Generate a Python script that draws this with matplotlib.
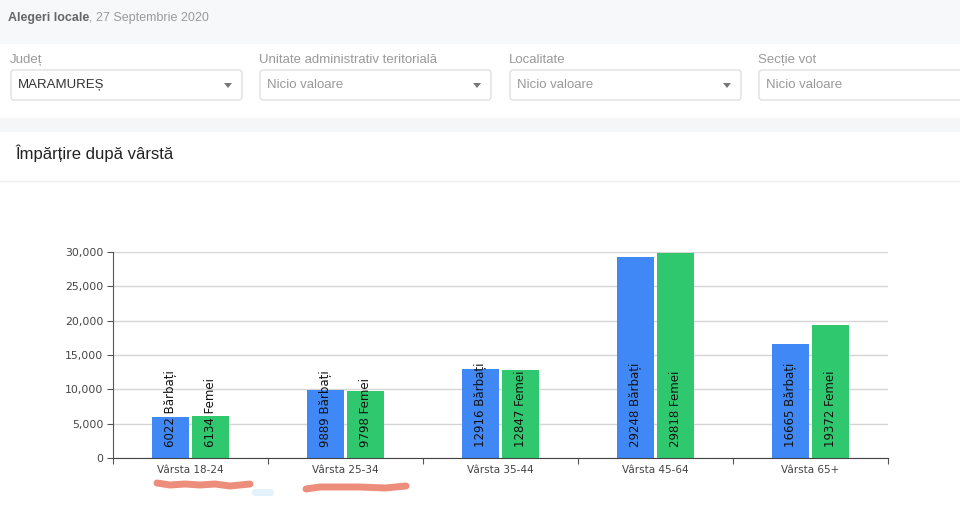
import matplotlib.pyplot as plt
from matplotlib.patches import FancyBboxPatch, Rectangle, Polygon

# %%
categories = ["Vârsta 18-24", "Vârsta 25-34", "Vârsta 35-44", "Vârsta 45-64", "Vârsta 65+"]
barbati = [6022, 9889, 12916, 29248, 16665]
femei = [6134, 9798, 12847, 29818, 19372]
y_ticks = [0, 5000, 10000, 15000, 20000, 25000, 30000]

filter_labels = ["Județ", "Unitate administrativ teritorială", "Localitate", "Secție vot"]
filter_values = ["MARAMUREȘ", "Nicio valoare", "Nicio valoare", "Nicio valoare"]

BLUE = "#4088f5"
GREEN = "#30c86e"

# %%
W, H = 960, 508
fig = plt.figure(figsize=(W / 100, H / 100), dpi=100)
fig.patch.set_facecolor("white")

# page background, drawn in pixel coordinates
bg = fig.add_axes([0, 0, 1, 1])
bg.set_xlim(0, W)
bg.set_ylim(H, 0)
bg.axis("off")

bg.add_patch(Rectangle((0, 0), W, 44, color="#f7f8fa", lw=0))
bg.add_patch(Rectangle((0, 118), W, 14, color="#f5f6f8", lw=0))
bg.plot([0, W], [180.5, 180.5], color="#eeeeee", lw=1)

t_bold = bg.text(8, 18, "Alegeri locale", fontsize=9, fontweight="bold", color="#666666",
                 va="center", family="Liberation Sans")
bg.annotate(", 27 Septembrie 2020", xy=(1, 0.5), xycoords=t_bold, fontsize=9, color="#999999",
            va="center", ha="left", family="Liberation Sans")

box_x = [10, 259, 509, 758]
for i, (lab, val) in enumerate(zip(filter_labels, filter_values)):
    x0 = box_x[i]
    bg.text(x0, 60, lab, fontsize=9.5, color="#999999", va="center", family="Liberation Sans")
    x1 = min(x0 + 233, W + 10)
    bg.add_patch(FancyBboxPatch((x0 + 1, 70), x1 - x0 - 2, 30,
                                boxstyle="round,pad=0,rounding_size=3",
                                fc="white", ec="#e0e0e0", lw=1))
    bg.text(x0 + 8, 85, val, fontsize=9.5, va="center", family="Liberation Sans",
            color="#333333" if i == 0 else "#999999")
    if i < 3:
        ax_ = x0 + 218
        bg.add_patch(Polygon([[ax_ - 4, 83], [ax_ + 4, 83], [ax_, 88]], color="#777777", lw=0))

bg.text(15, 153, "Împărțire după vârstă", fontsize=12, color="#222222", va="center",
        family="Liberation Sans")

# red scribbles and blob under first two labels
bg.plot([157, 170, 185, 200, 215, 230, 250], [483, 485, 484, 485, 484, 486, 484],
        color="#e8725a", lw=5, alpha=0.8, solid_capstyle="round")
bg.plot([306, 320, 340, 360, 385, 406], [489, 487, 487, 487, 488, 486],
        color="#e8725a", lw=5, alpha=0.8, solid_capstyle="round")
bg.add_patch(FancyBboxPatch((252, 489), 22, 7, boxstyle="round,pad=0,rounding_size=3",
                            fc="#e4f3fb", ec="none"))

# %%
ax = fig.add_axes([113 / W, (H - 458) / H, 775 / W, 206 / H])
x = list(range(len(categories)))
bw, off = 0.24, 0.13
ax.bar([i - off for i in x], barbati, width=bw, color=BLUE, zorder=2)
ax.bar([i + off for i in x], femei, width=bw, color=GREEN, zorder=2)

for i in x:
    ax.annotate(f"{barbati[i]} Bărbați", (i - off, 0), xytext=(0, 8), textcoords="offset points",
                rotation=90, ha="center", va="bottom", fontsize=8.5, color="#111111", zorder=3)
    ax.annotate(f"{femei[i]} Femei", (i + off, 0), xytext=(0, 8), textcoords="offset points",
                rotation=90, ha="center", va="bottom", fontsize=8.5, color="#111111", zorder=3)

ax.set_xlim(-0.5, len(categories) - 0.5)
ax.set_ylim(0, 30000)
ax.set_yticks(y_ticks)
ax.set_yticklabels([f"{v:,}" for v in y_ticks], fontsize=7.8, color="#444444")
ax.yaxis.grid(True, color="#d5d5d5", lw=1, zorder=0)
ax.set_axisbelow(True)

ax.set_xticks([i - 0.5 for i in range(len(categories) + 1)])
ax.set_xticklabels([])
ax.set_xticks(x, minor=True)
ax.set_xticklabels(categories, minor=True, fontsize=7.5, color="#444444")
ax.tick_params(axis="x", which="minor", length=0, pad=5)
ax.tick_params(axis="x", which="major", length=4, color="#555555")
ax.tick_params(axis="y", length=4, color="#555555", pad=3)

for s in ["top", "right"]:
    ax.spines[s].set_visible(False)
ax.spines["left"].set_color("#555555")
ax.spines["bottom"].set_color("#444444")

fig.savefig("out.png", dpi=100)
